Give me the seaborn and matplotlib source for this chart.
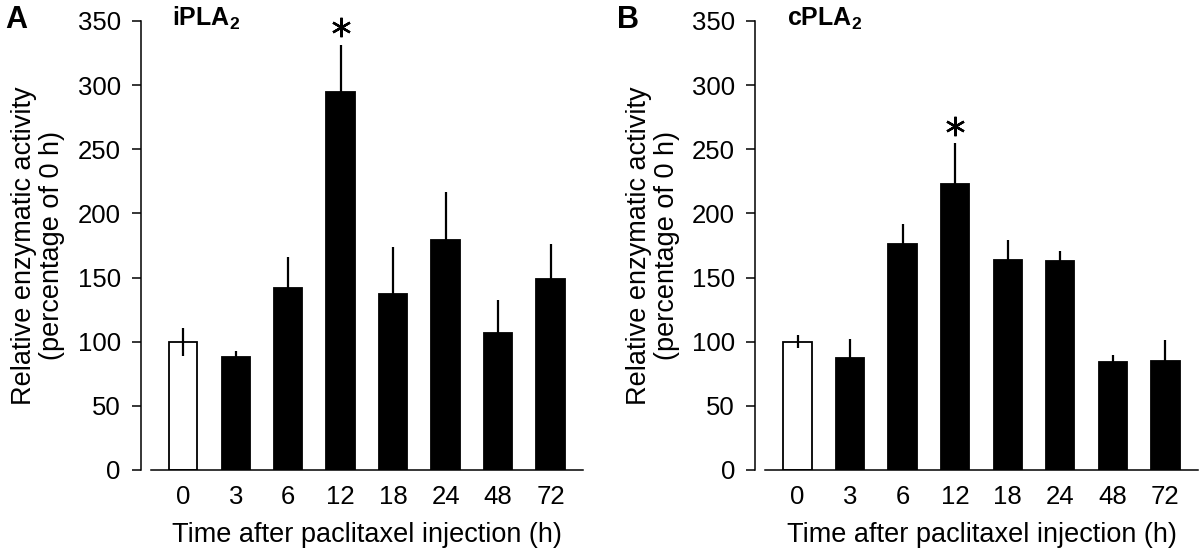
import matplotlib

matplotlib.use("Agg")
import matplotlib.pyplot as plt
import pandas as pd
import seaborn as sns

# time points after injection (h)
times = ["0", "3", "6", "12", "18", "24", "48", "72"]

# panel A: iPLA2 activity (% of 0 h) and SEM
ipla2_mean = [100, 88, 142, 295, 137, 179, 107, 149]
ipla2_err = [11, 4.5, 24, 36, 37, 37.5, 25.5, 27]

# panel B: cPLA2 activity (% of 0 h) and SEM
cpla2_mean = [100, 87, 176, 223, 164, 163, 84, 85]
cpla2_err = [5, 15, 16, 31.5, 15, 8, 6, 16]

# which time point is significant
sig_time = "12"

bar_colors = ["white"] + ["black"] * (len(times) - 1)


def setup_plot_style():
    sns.set_style("ticks")
    plt.rcParams.update(
        {
            "font.family": ["Liberation Sans", "DejaVu Sans"],
            "mathtext.fontset": "custom",
            "mathtext.rm": "Liberation Sans",
            "mathtext.bf": "Liberation Sans:bold",
            "axes.edgecolor": "black",
            "axes.linewidth": 1.1,
            "xtick.color": "black",
            "ytick.color": "black",
            "text.color": "black",
            "axes.labelcolor": "black",
        }
    )


def plot_panel(ax, means, errs, title, letter, letter_x):
    df = pd.DataFrame({"time": times, "activity": means, "err": errs})
    sns.barplot(
        data=df,
        x="time",
        y="activity",
        hue="time",
        order=times,
        palette=bar_colors,
        legend=False,
        width=0.54,
        edgecolor="black",
        linewidth=1.3,
        errorbar=None,
        ax=ax,
    )
    ax.errorbar(
        range(len(times)), df["activity"], yerr=df["err"],
        fmt="none", ecolor="black", elinewidth=1.6, capsize=0, zorder=1.5,
    )
    i = times.index(sig_time)
    ax.plot(i, means[i] + errs[i] + 14, marker=(6, 2, 0), markersize=14,
            markeredgewidth=1.7, color="black", linestyle="none", clip_on=False)

    ax.set_ylim(0, 350)
    ax.set_xlim(-0.62, len(times) - 1 + 0.62)
    ax.set_yticks(range(0, 351, 50))
    sns.despine(ax=ax)
    ax.spines["left"].set_position(("outward", 7))
    ax.spines["left"].set_bounds(0, 350)
    ax.tick_params(axis="y", direction="out", length=6.5, width=1.1, pad=8, labelsize=18.5)
    ax.tick_params(axis="x", length=0, pad=11, labelsize=18.5)
    ax.set_xlabel("Time after paclitaxel injection (h)", fontsize=19.5, labelpad=9)
    ax.set_ylabel("Relative enzymatic activity\n(percentage of 0 h)", fontsize=19.5,
                  labelpad=9, linespacing=1.1)
    ax.text(0.05, 0.99, title, transform=ax.transAxes, fontsize=18, va="baseline", ha="left")
    ax.figure.text(letter_x, 1 - 28 / 550, letter, fontsize=22, fontweight="bold",
                   va="baseline", ha="left")


setup_plot_style()
fig = plt.figure(figsize=(12, 5.5), dpi=100)
ax_a = fig.add_axes([0.1256, 0.1455, 0.3603, 0.8164])
ax_b = fig.add_axes([0.6375, 0.1455, 0.3608, 0.8164])

plot_panel(ax_a, ipla2_mean, ipla2_err, r"$\mathbf{iPLA}_{\mathbf{2}}$", "A", 5 / 1200)
plot_panel(ax_b, cpla2_mean, cpla2_err, r"$\mathbf{cPLA}_{\mathbf{2}}$", "B", 617 / 1200)

fig.savefig("out.png", dpi=100)
plt.close(fig)
